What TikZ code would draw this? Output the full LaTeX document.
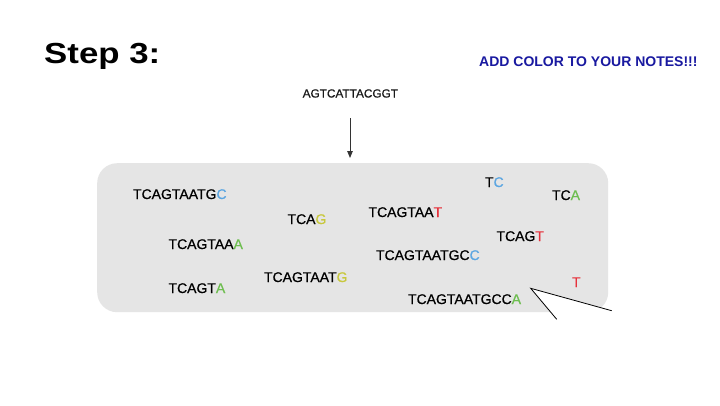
\documentclass[tikz,border=0pt]{standalone}
\usepackage{fontspec}
\setmainfont{Liberation Sans}
\newfontfamily\seqfont[FakeBold=0.7]{Liberation Sans}
\usetikzlibrary{arrows.meta}
\definecolor{cblue}{RGB}{90,165,225}
\definecolor{cyel}{RGB}{200,200,60}
\definecolor{cgreen}{RGB}{110,190,80}
\definecolor{cred}{RGB}{230,50,60}
\definecolor{titleblue}{RGB}{25,25,160}
\definecolor{boxgray}{RGB}{229,229,229}
\newcommand{\Bc}[1]{\textcolor{cblue}{#1}}
\newcommand{\Yc}[1]{\textcolor{cyel}{#1}}
\newcommand{\Gc}[1]{\textcolor{cgreen}{#1}}
\newcommand{\Rc}[1]{\textcolor{cred}{#1}}
\begin{document}
\begin{tikzpicture}[x=1bp,y=-1bp,
  seq/.style={anchor=base west,inner sep=0pt,outer sep=0pt,text=black,font=\seqfont\fontsize{14bp}{16bp}\selectfont},
  connector/.style={draw=black!80,line width=0.9bp},
  callout/.style={draw=black,line width=0.8bp}]
\useasboundingbox (0,0) rectangle (720,405);
\fill[white] (0,0) rectangle (720,405);
% box
\node[fill=boxgray,rounded corners=20bp,minimum width=511bp,minimum height=149bp,inner sep=0pt,anchor=north west] (box) at (97,163) {};
% title
\node[anchor=base west,inner sep=0pt] (title) at (44,63.5) {\scalebox{1.2}[1]{\fontsize{29bp}{32bp}\selectfont\bfseries Step 3:}};
\node[anchor=base west,inner sep=0pt,text=titleblue] (note) at (479,66.5) {\fontsize{14bp}{16bp}\selectfont\bfseries ADD COLOR TO YOUR NOTES!!!};
\node[anchor=base west,inner sep=0pt,text=black!90] (dna) at (302.5,97.5) {\seqfont\fontsize{11.8bp}{14bp}\selectfont AGTCATTACGGT};
% arrow
\coordinate (a1) at (350,118);
\coordinate (a2) at (350,158);
\draw[connector,-{Triangle[width=5.5bp,length=7bp]}] (a1) -- (a2);
% fragments
\node[seq] (f1) at (133,199) {TCAGTAATG\Bc{C}};
\node[seq] (f2) at (287.5,224) {TCA\Yc{G}};
\node[seq] (f3) at (168.5,249) {TCAGTAA\Gc{A}};
\node[seq] (f4) at (264,282) {TCAGTAAT\Yc{G}};
\node[seq] (f5) at (168.5,293) {TCAGT\Gc{A}};
\node[seq] (f6) at (368.5,217) {TCAGTAA\Rc{T}};
\node[seq] (f7) at (485,187) {T\Bc{C}};
\node[seq] (f8) at (552,200) {TC\Gc{A}};
\node[seq] (f9) at (496.5,241) {TCAG\Rc{T}};
\node[seq] (f10) at (376,260) {TCAGTAATGC\Bc{C}};
\node[seq] (f11) at (572,287) {\Rc{T}};
\node[seq] (f12) at (408,304) {TCAGTAATGCC\Gc{A}};
% callout wedge
\coordinate (apex) at (530.7,288.3);
\coordinate (c1) at (556.7,319.3);
\coordinate (c2) at (611.7,310.7);
\fill[white] (apex) -- (c1) -- (c2) -- cycle;
\draw[callout] (c1) -- (apex) -- (c2);
\end{tikzpicture}
\end{document}
